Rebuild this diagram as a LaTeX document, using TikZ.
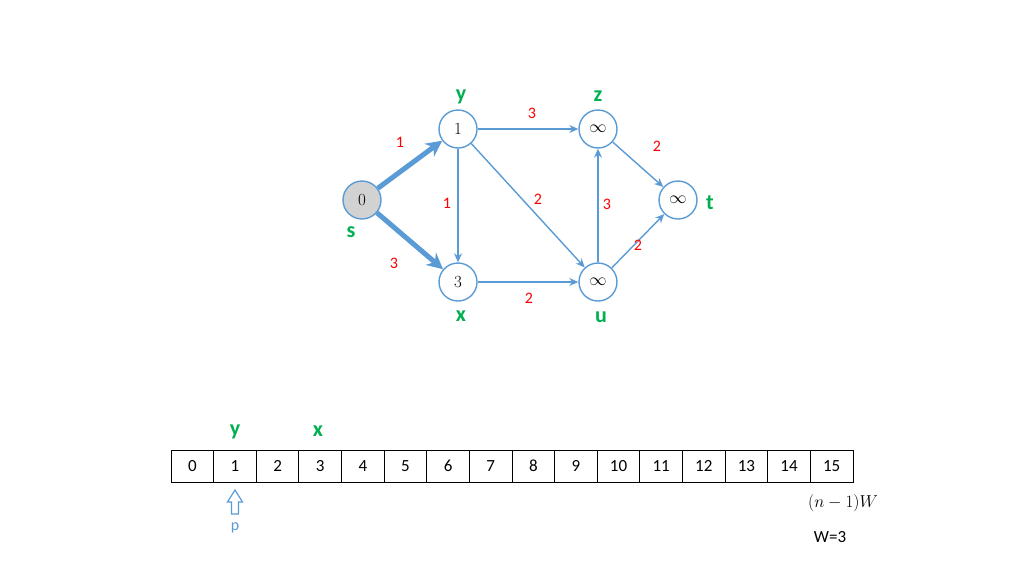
\documentclass[tikz,border=0pt]{standalone}
\usepackage{fontspec}
\newfontfamily\carl{Carlito}
\usetikzlibrary{arrows.meta}
\definecolor{bl}{RGB}{91,155,213}
\definecolor{gr}{RGB}{0,176,80}
\tikzset{vtx/.style={circle,draw=bl,line width=1.4pt,fill=white,minimum size=38pt,inner sep=0pt,font=\fontsize{17}{20}\selectfont},
ed/.style={draw=bl,line width=1.4pt,-{Stealth[length=9pt,width=8pt]}},
thick ed/.style={draw=bl,line width=5pt,-{Stealth[length=16pt,width=16pt]}},
wt/.style={text=red,font=\carl\fontsize{16}{19}\selectfont},
nm/.style={text=gr,font=\carl\bfseries\fontsize{22}{26}\selectfont},
cell/.style={draw,line width=0.8pt,minimum width=42.625pt,minimum height=32pt,inner sep=0pt,font=\carl\fontsize{17}{20}\selectfont}}
\begin{document}
\begin{tikzpicture}[x=1pt,y=-1pt]
\useasboundingbox (0,0) rectangle (1024,576);
\node[vtx,fill={rgb,255:red,210;green,210;blue,210}] (s) at (362,200) {0};
\node[vtx] (y) at (458,129) {1};
\node[vtx] (z) at (598,129) {$\infty$};
\node[vtx] (t) at (678,200) {$\infty$};
\node[vtx] (x) at (458,282) {3};
\node[vtx] (u) at (598,282) {$\infty$};
\draw[thick ed] (s) -- (y);
\draw[thick ed] (s) -- (x);
\draw[ed] (y) -- (z);
\draw[ed] (y) -- (x);
\draw[ed] (y) -- (u);
\draw[ed] (x) -- (u);
\draw[ed] (u) -- (z);
\draw[ed] (z) -- (t);
\draw[ed] (u) -- (t);
\node[wt] (w1) at (400,142) {1};
\node[wt] (w2) at (394,263) {3};
\node[wt] (w3) at (532,113) {3};
\node[wt] (w4) at (447,203) {1};
\node[wt] (w5) at (538,199) {2};
\node[wt] (w6) at (607,204) {3};
\node[wt] (w7) at (657,146) {2};
\node[wt] (w8) at (638,245) {2};
\node[wt] (w9) at (529,298) {2};
\node[nm] (ly) at (461,97) {y};
\node[nm] (lz) at (598,96) {z};
\node[nm] (lt) at (710,203) {t};
\node[nm] (ls) at (351,232) {s};
\node[nm] (lx) at (461,316) {x};
\node[nm] (lu) at (601,317) {u};
\foreach \i in {0,...,15}{
  \node[cell] (c\i) at ({171+42.625*(\i+0.5)},466) {\i};
}
\node[nm] (ay) at (235,432) {y};
\node[nm] (ax) at (318,431) {x};
\draw[bl,line width=1.2pt,fill=white] (231.5,514) -- (231.5,502) -- (227.5,502) -- (235,490) -- (242.5,502) -- (238.5,502) -- (238.5,514) -- cycle;
\node[text=bl,font=\carl\fontsize{16}{19}\selectfont] (p) at (235,528) {p};
\node[font=\fontsize{17}{20}\selectfont] (nw) at (843,503) {$(n-1)W$};
\node[font=\carl\fontsize{17}{20}\selectfont] (w) at (830,537) {W=3};
\end{tikzpicture}
\end{document}
